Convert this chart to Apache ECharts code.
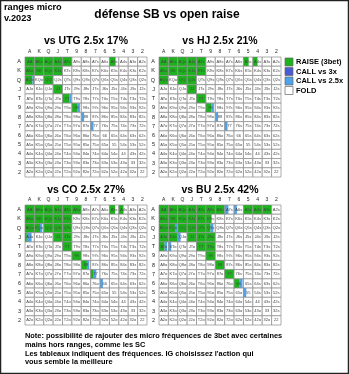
<!DOCTYPE html>
<html><head><meta charset="utf-8">
<script src="https://cdn.jsdelivr.net/npm/echarts@6/dist/echarts.min.js"></script>
<style>html,body{margin:0;padding:0;background:#fff;}#c{width:349px;height:374px;}</style>
</head><body><div id="c"></div>
<script>
const ranks = ['A','K','Q','J','T','9','8','7','6','5','4','3','2'];
const titles = ['vs UTG 2.5x 17%','vs HJ 2.5x 21%','vs CO 2.5x 27%','vs BU 2.5x 42%'];
const legendLabels = ['RAISE (3bet)','CALL vs 3x','CALL vs 2.5x','FOLD'];

// frequencies per hand
const utgRaise = [['AA',1],['AKs',1],['AQs',1],['AJs',1],['ATs',1],['A5s',0.65],['AKo',1],['KK',1],['KQs',1],['KJs',1],['AQo',0.8],['QQ',1],['JJ',1],['TT',0.7],['99',0.55]];
const utgCall3 = [];
const utgCall25 = [['AQo',0.2],['TT',0.25],['99',0.3],['88',0.3],['77',0.3]];

const hjRaise = [['AA',1],['AKs',1],['AQs',1],['AJs',1],['ATs',1],['A5s',0.55],['A4s',0.5],['AKo',1],['KK',1],['KQs',1],['KJs',1],['KTs',1],['AQo',1],['QQ',1],['QJs',1],['JJ',1],['TT',1],['99',0.6]];
const hjCall3 = [];
const hjCall25 = [['99',0.25],['88',0.3],['77',0.3]];

const coRaise = [['AA',1],['AKs',1],['AQs',1],['AJs',1],['ATs',1],['A9s',1],['A5s',0.6],['A4s',0.5],['AKo',1],['KK',1],['KQs',1],['KJs',1],['KTs',1],['AQo',1],['KQo',0.6],['QQ',1],['QJs',1],['QTs',1],['AJo',0.2],['JJ',1],['JTs',1],['TT',1],['99',1],['88',0.6],['77',0.25]];
const coCall3 = [];
const coCall25 = [['KQo',0.25],['AJo',0.5],['88',0.25],['77',0.35],['66',0.3]];

const buRaise = [['AA',1],['AKs',1],['AQs',1],['AJs',1],['ATs',1],['A9s',1],['A8s',1],['A5s',1],['A4s',1],['A3s',1],['AKo',1],['KK',1],['KQs',1],['KJs',1],['KTs',1],['K9s',0.6],['AQo',1],['KQo',0.7],['QQ',1],['QJs',1],['QTs',1],['Q9s',0.5],['AJo',1],['KJo',1],['JJ',1],['JTs',1],['J9s',1],['ATo',0.6],['TT',1],['T9s',1],['99',1],['88',1],['77',1],['66',0.6]];
const buCall3 = [];
const buCall25 = [['A7s',0.4],['A6s',0.3],['KQo',0.25],['Q9s',0.3],['QJo',0.3],['ATo',0.25],['KTo',0.3],['66',0.3],['55',0.3]];

const noteLines = [
  'Note: possibilité de rajouter des micro fréquences de 3bet avec certaines',
  'mains hors ranges, comme les SC',
  'Les tableaux indiquent des fréquences. IG choisissez l\'action qui',
  'vous semble la meilleure'
];

const FONT = 'Liberation Sans, Arial, sans-serif';
const GREEN = '#1db31d', DBLUE = '#4a5bd6', LBLUE = '#4ea3ea';

function handName(col,row){
  if(col===row) return ranks[row]+ranks[col];
  if(col>row) return ranks[row]+ranks[col]+'s';
  return ranks[col]+ranks[row]+'o';
}
function buildData(raise, call3, call25){
  const m = (arr)=>{const o={};arr.forEach(([h,v])=>o[h]=v);return o;};
  const r=m(raise), c3=m(call3), c2=m(call25);
  const out=[];
  for(let row=0;row<13;row++) for(let col=0;col<13;col++){
    const h=handName(col,row);
    out.push([col,row,r[h]||0,c3[h]||0,c2[h]||0]);
  }
  return out;
}
const sets = [
  buildData(utgRaise,utgCall3,utgCall25),
  buildData(hjRaise,hjCall3,hjCall25),
  buildData(coRaise,coCall3,coCall25),
  buildData(buRaise,buCall3,buCall25)
];
const gridPos = [
  {left:25,top:57},{left:159,top:57},{left:25,top:205},{left:159,top:205}
];
function renderItem(params, api){
  const col=api.value(0), row=api.value(1);
  const c = api.coord([col,row]);
  const s = api.size([1,1]);
  const w=s[0], h=s[1], x=c[0]-w/2, y=c[1]-h/2;
  const g=api.value(2), d=api.value(3), b=api.value(4);
  const ch=[{type:'rect',shape:{x:x,y:y,width:w,height:h},style:{fill:'#fff'}}];
  if(g>0) ch.push({type:'rect',shape:{x:x,y:y,width:w*g,height:h},style:{fill:GREEN}});
  if(d>0) ch.push({type:'rect',shape:{x:x+w*g,y:y,width:w*d,height:h},style:{fill:DBLUE}});
  if(b>0) ch.push({type:'rect',shape:{x:x+w*(g+d),y:y,width:w*b,height:h},style:{fill:LBLUE}});
  ch.push({type:'rect',shape:{x:x,y:y,width:w,height:h},style:{fill:null,stroke:'#8a8a8a',lineWidth:0.7}});
  ch.push({type:'text',style:{text:handName(col,row),x:c[0],y:c[1],align:'center',verticalAlign:'middle',fill:'#444',font:'4px '+FONT}});
  return {type:'group',children:ch};
}
const grids=[],xAxes=[],yAxes=[],series=[];
for(let i=0;i<4;i++){
  grids.push({left:gridPos[i].left,top:gridPos[i].top,width:122,height:120});
  xAxes.push({type:'category',gridIndex:i,data:ranks,position:'top',axisLine:{show:false},axisTick:{show:false},splitLine:{show:false},axisLabel:{fontSize:5,color:'#222',margin:3,fontFamily:FONT}});
  yAxes.push({type:'category',gridIndex:i,data:ranks,inverse:true,axisLine:{show:false},axisTick:{show:false},splitLine:{show:false},axisLabel:{fontSize:5.5,color:'#222',margin:4,fontFamily:FONT}});
  series.push({type:'custom',xAxisIndex:i,yAxisIndex:i,renderItem:renderItem,data:sets[i],animation:false,silent:true});
}
const T=(txt,x,y,size,align)=>({type:'text',x:x,y:y,style:{text:txt,font:'bold '+size+'px '+FONT,fill:'#000',align:align||'left',verticalAlign:'middle'}});
const graphic=[
  {type:'rect',shape:{x:0.5,y:0.5,width:348,height:373},style:{fill:null,stroke:'#222',lineWidth:1.5}},
  T('ranges micro',4,7,9.2),
  T('v.2023',4,18,9.2),
  T('défense SB vs open raise',167,15,12,'center'),
  T(titles[0],86,41,10.5,'center'),
  T(titles[1],220,41,10.5,'center'),
  T(titles[2],86,190,10.5,'center'),
  T(titles[3],220,190,10.5,'center'),
  T(noteLines[0],25,336,7.4),
  T(noteLines[1],25,344.5,7.4),
  T(noteLines[2],25,353.5,7.4),
  T(noteLines[3],25,362,7.4)
];
const legColors=[GREEN,DBLUE,LBLUE,'#fff'];
for(let i=0;i<4;i++){
  const y=58+i*9.5;
  graphic.push({type:'rect',shape:{x:285,y:y,width:8,height:8},style:{fill:legColors[i],stroke:'#666',lineWidth:0.7}});
  graphic.push(T(legendLabels[i],296,y+4,7.5));
}
const chart=echarts.init(document.getElementById('c'),null,{renderer:'canvas'});
chart.setOption({animation:false,grid:grids,xAxis:xAxes,yAxis:yAxes,series:series,graphic:graphic});
</script></body></html>
